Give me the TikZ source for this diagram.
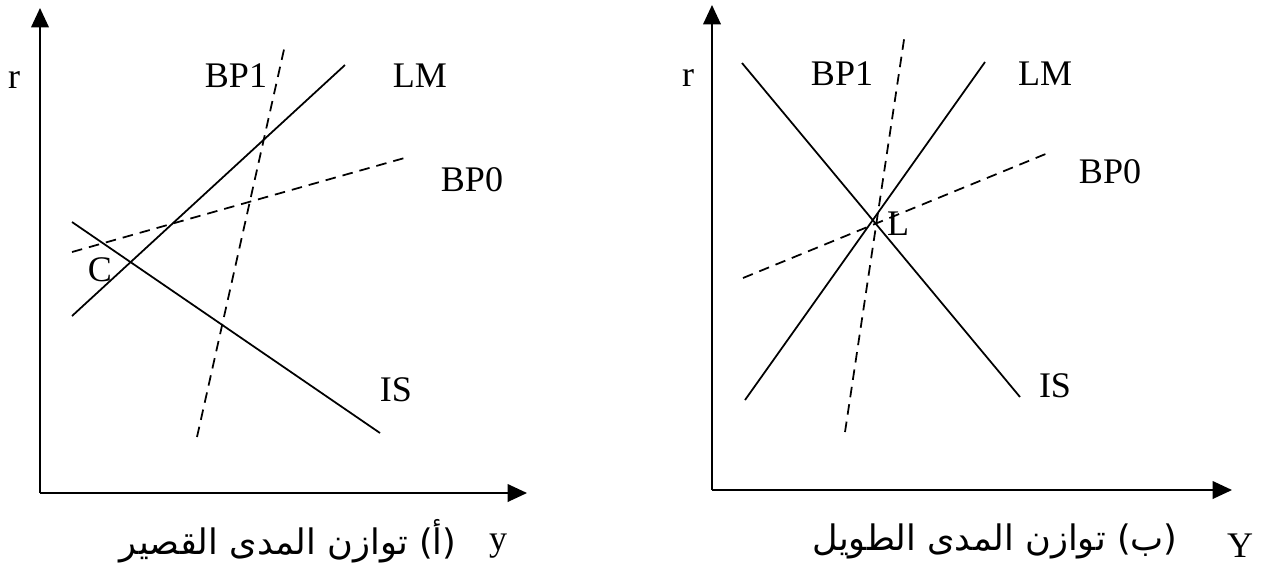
\documentclass[tikz,border=0pt]{standalone}
\usepackage{fontspec}
\setmainfont{Liberation Serif}
\newfontfamily\arabicfont[Script=Arabic]{DejaVu Sans}
\TeXXeTstate=1
\usetikzlibrary{arrows.meta}

\begin{document}
\begin{tikzpicture}[x=0.02cm, y=-0.02cm, font=\fontsize{20.5}{24}\selectfont,
  axis/.style={line width=1pt, -{Triangle[length=11pt,width=10pt]}},
  curve/.style={line width=1pt},
  bpline/.style={line width=1pt, dash pattern=on 6pt off 4pt},
  lbl/.style={inner sep=0pt},
  ar/.style={inner sep=0pt, font=\arabicfont\fontsize{20}{24}\selectfont}]
\useasboundingbox (0,0) rectangle (1267,566);

% (a) short run equilibrium
\coordinate (Oa) at (40,493);
\coordinate (Ra) at (40,8);
\coordinate (Ya) at (527,493);
\draw[axis] (Oa) -- (Ra);
\draw[axis] (Oa) -- (Ya);

\coordinate (LMa1) at (72,316);
\coordinate (LMa2) at (345,65);
\coordinate (ISa1) at (72,222);
\coordinate (ISa2) at (380,433);
\coordinate (BP0a1) at (72,252);
\coordinate (BP0a2) at (408,157);
\coordinate (BP1a1) at (197,437);
\coordinate (BP1a2) at (285,45);
\draw[curve] (LMa1) -- (LMa2);
\draw[curve] (ISa1) -- (ISa2);
\draw[bpline] (BP0a1) -- (BP0a2);
\draw[bpline] (BP1a1) -- (BP1a2);

\node[lbl] (ra) at (14,80) {r};
\node[lbl] (bp1a) at (236,76) {BP1};
\node[lbl] (lma) at (420,76) {LM};
\node[lbl] (bp0a) at (472,180) {BP0};
\node[lbl] (isa) at (396,390) {IS};
\node[lbl] (ca) at (100,270) {C};
\node[lbl] (ya) at (498,546) {y};
\node[ar] (tita) at (288,541) {\beginR(أ) توازن المدى القصير\endR};

% (b) long run equilibrium
\coordinate (Ob) at (712,490);
\coordinate (Rb) at (712,5);
\coordinate (Yb) at (1232,490);
\draw[axis] (Ob) -- (Rb);
\draw[axis] (Ob) -- (Yb);

\coordinate (ISb1) at (742,63);
\coordinate (ISb2) at (1020,397);
\coordinate (LMb1) at (745,400);
\coordinate (LMb2) at (985,62);
\coordinate (BP0b1) at (743,278);
\coordinate (BP0b2) at (1048,153);
\coordinate (BP1b1) at (845,432);
\coordinate (BP1b2) at (905,33);
\draw[curve] (ISb1) -- (ISb2);
\draw[curve] (LMb1) -- (LMb2);
\draw[bpline] (BP0b1) -- (BP0b2);
\draw[bpline] (BP1b1) -- (BP1b2);

\node[lbl] (rb) at (688,78) {r};
\node[lbl] (bp1b) at (842,74) {BP1};
\node[lbl] (lmb) at (1045,74) {LM};
\node[lbl] (bp0b) at (1110,172) {BP0};
\node[lbl] (isb) at (1055,386) {IS};
\node[lbl] (lb) at (898,224) {L};
\node[lbl] (yb) at (1240,546) {Y};
\node[ar] (titb) at (995,541) {\beginR(ب) توازن المدى الطويل\endR};
\end{tikzpicture}
\end{document}
